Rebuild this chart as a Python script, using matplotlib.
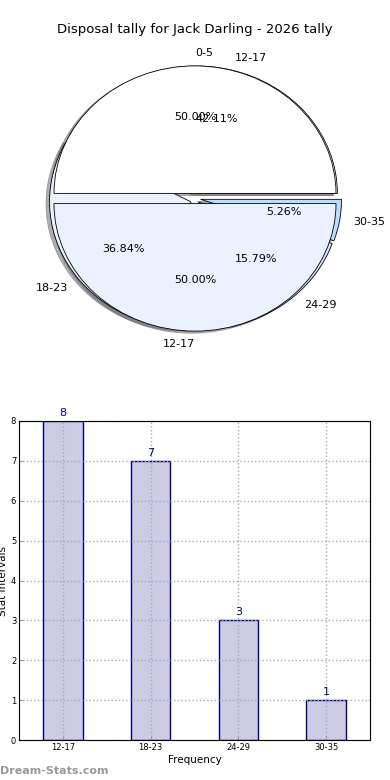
import numpy as np
import matplotlib.pyplot as plt

# data
groups = ['12-17', '18-23', '24-29', '30-35']
counts = [8, 7, 3, 1]
top_labels = ['0-5', '12-17']
top_values = [1, 1]

pie_colors = ['#FFFFFF', '#EBF1FF', '#D6E4FF', '#BBDDFF']

fig = plt.figure(figsize=(3.9, 7.8), dpi=100)

fig.text(0.5, 1 - 30/780, 'Disposal tally for Jack Darling - 2026 tally',
         ha='center', va='center', fontsize=9.5)

# pie axes - not equal aspect, looks squashed like the original
L = 1.3
rx, ry = 141, 127.5
w = 2*L*rx/390
h = 2*L*ry/780
cy = 1 - 198.5/780
ax1 = fig.add_axes([0.5 - w/2, cy - h/2, w, h])

shad = {'ox': -0.018, 'oy': -0.012, 'shade': 0.6}
ax1.pie(counts, labels=groups, colors=pie_colors, autopct='%1.2f%%',
        explode=[0.04]*4, shadow=shad, startangle=0,
        wedgeprops={'edgecolor': 'black', 'linewidth': 0.6},
        textprops={'fontsize': 8})
wedges, texts, autotexts = ax1.pie(top_values, labels=top_labels, colors=pie_colors[:2],
                                   autopct='%1.2f%%', explode=[0.04]*2, shadow=shad,
                                   startangle=0,
                                   wedgeprops={'edgecolor': 'black', 'linewidth': 0.6},
                                   textprops={'fontsize': 8})
texts[0].set_ha('left')
texts[1].set_ha('right')
ax1.set_aspect('auto')
ax1.set_xlim(-L, L)
ax1.set_ylim(-L, L)
ax1.axis('off')

# bar chart
ax2 = fig.add_axes([19/390, 1 - 740/780, 351/390, 319/780])
x = np.arange(len(groups))
ax2.bar(x, counts, width=0.45, color='#CCCCE5', edgecolor='#000080', linewidth=1, zorder=2)
for i, c in enumerate(counts):
    ax2.text(i, c + 0.08, str(c), ha='center', va='bottom', color='#000080', fontsize=8)
ax2.set_xlim(-0.5, 3.5)
ax2.set_ylim(0, 8)
ax2.set_xticks(x)
ax2.set_xticklabels(groups)
ax2.set_yticks(range(9))
ax2.tick_params(labelsize=6, length=3, color='#999999', direction='in', pad=2)
ax2.grid(True, linestyle=':', color='#aaaaaa', linewidth=1, zorder=0)
ax2.set_axisbelow(False)
for sp in ax2.spines.values():
    sp.set_zorder(4)
ax2.set_xlabel('Frequency', fontsize=7.5, labelpad=2)
ax2.set_ylabel('Stat Intervals', fontsize=7.5, labelpad=2)

fig.text(0.0, 1 - 771/780, 'Dream-Stats.com', color='#999999', fontsize=8,
         fontweight='bold', ha='left', va='center')

fig.savefig('out.png', dpi=100)
